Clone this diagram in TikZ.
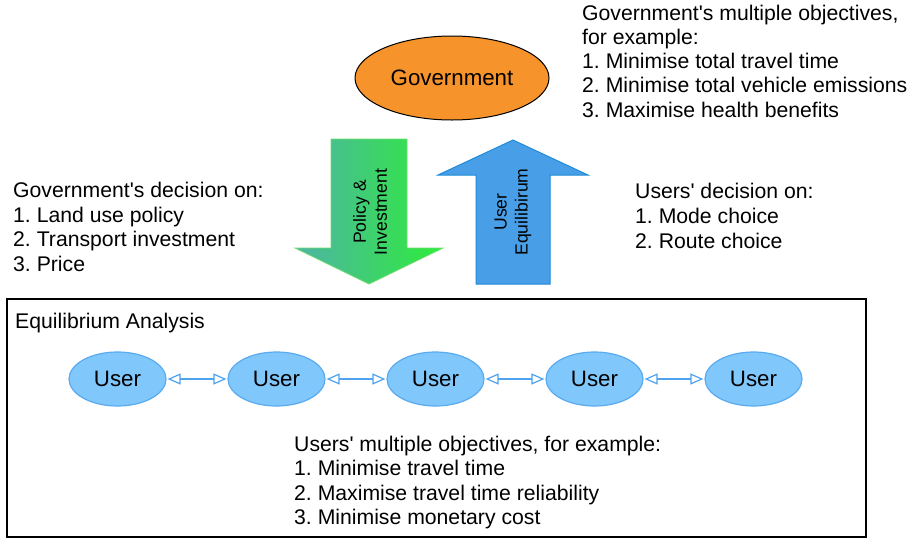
\documentclass[tikz,border=0pt]{standalone}
\usepackage{fontspec}
\setmainfont{Liberation Sans}[Ligatures=TeXOff]
\usetikzlibrary{arrows.meta,shapes.geometric}
\definecolor{govorange}{HTML}{F7932B}
\definecolor{userfill}{HTML}{80C8FB}
\definecolor{userdraw}{HTML}{5AAAF0}
\definecolor{linkblue}{HTML}{4FA3EE}
\definecolor{greenL}{HTML}{4FB3A6}
\definecolor{greenR}{HTML}{2EEC3A}
\definecolor{greenD}{HTML}{6EDD6E}
\definecolor{bluefill}{HTML}{489FE8}
\definecolor{bluedraw}{HTML}{1F8AD8}
\frenchspacing
\tikzset{
  txt/.style={anchor=base west, inner sep=0pt, font=\fontsize{21.2}{24}\selectfont},
  userell/.style={ellipse, draw=userdraw, line width=1.2pt, fill=userfill, minimum width=97pt, minimum height=54pt, inner sep=0pt, font=\fontsize{22.3}{24}\selectfont},
  link/.style={draw=linkblue, line width=1.2pt, {Triangle[open,length=13pt,width=11pt]}-{Triangle[open,length=13pt,width=11pt]}, shorten <=1pt, shorten >=1pt},
  arrtxt/.style={rotate=90, align=center, inner sep=0pt, font=\fontsize{17.6}{21}\selectfont}
}
\begin{document}
\begin{tikzpicture}[x=1pt,y=-1pt]
\useasboundingbox (0,0) rectangle (913,539);
% Government
\node[ellipse, draw=black, line width=1pt, fill=govorange, minimum width=194pt, minimum height=84pt, inner sep=0pt, font=\fontsize{22.3}{24}\selectfont] (gov) at (452,78) {Government};
% right top text
\node[txt] (g1) at (582,20) {Government's multiple objectives,};
\node[txt] (g2) at (582,44.3) {for example:};
\node[txt] (g3) at (582,68.6) {1. Minimise total travel time};
\node[txt] (g4) at (582,92.9) {2. Minimise total vehicle emissions};
\node[txt] (g5) at (582,117.2) {3. Maximise health benefits};
% left text
\node[txt] (l1) at (13,197.3) {Government's decision on:};
\node[txt] (l2) at (13,222) {1. Land use policy};
\node[txt] (l3) at (13,246.7) {2. Transport investment};
\node[txt] (l4) at (13,271.4) {3. Price};
% users' decision
\node[txt] (u1) at (635,198) {Users' decision on:};
\node[txt] (u2) at (635,223) {1. Mode choice};
\node[txt] (u3) at (635,248) {2. Route choice};
% green arrow
\shade[left color=greenL, right color=greenR] (331,139) -- (407,139) -- (407,248) -- (443,248) -- (369,284) -- (295,248) -- (331,248) -- cycle;
\draw[greenD, line width=0.8pt] (331,139) -- (407,139) -- (407,248) -- (443,248) -- (369,284) -- (295,248) -- (331,248) -- cycle;
\node[arrtxt] (pol) at (370,212) {Policy \&\\Investment};
% blue arrow
\draw[bluedraw, fill=bluefill, line width=1pt] (513,140) -- (588,175) -- (550,175) -- (550,284) -- (476,284) -- (476,175) -- (438,175) -- cycle;
\node[arrtxt] (ue) at (513,212) {User\\Equilibirum};
% box
\draw[black, line width=1.3pt] (7,299) rectangle (866,537);
\node[txt] (ea) at (15,328) {Equilibrium Analysis};
% users
\node[userell] (us1) at (117.5,379) {User};
\node[userell] (us2) at (276.5,379) {User};
\node[userell] (us3) at (435.5,379) {User};
\node[userell] (us4) at (594.5,379) {User};
\node[userell] (us5) at (753.5,379) {User};
\draw[link] (us1) -- (us2);
\draw[link] (us2) -- (us3);
\draw[link] (us3) -- (us4);
\draw[link] (us4) -- (us5);
% bottom text
\node[txt] (b1) at (294,451) {Users' multiple objectives, for example:};
\node[txt] (b2) at (294,475.5) {1. Minimise travel time};
\node[txt] (b3) at (294,500) {2. Maximise travel time reliability};
\node[txt] (b4) at (294,524.5) {3. Minimise monetary cost};
\end{tikzpicture}
\end{document}
